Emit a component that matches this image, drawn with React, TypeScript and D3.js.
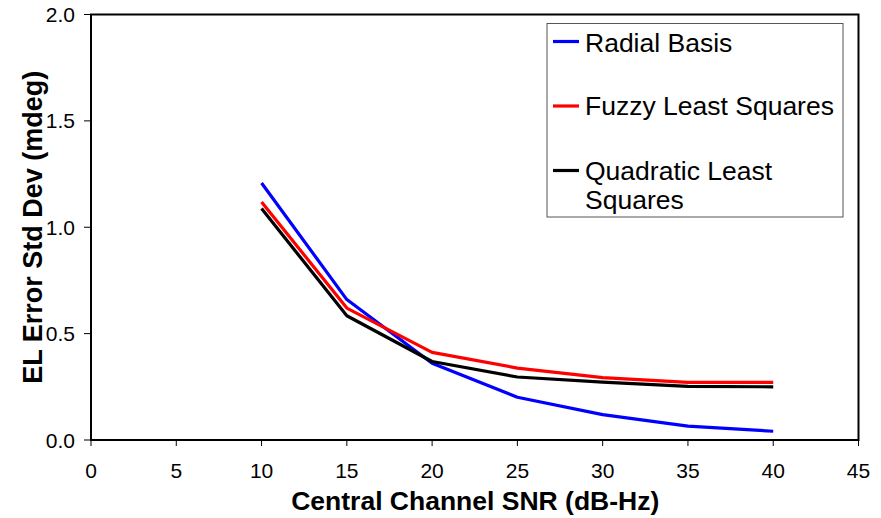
import React from "react";
import * as d3 from "d3";

const snr = [10, 15, 20, 25, 30, 35, 40];
const radialBasis = [1.208, 0.66, 0.361, 0.201, 0.119, 0.065, 0.041];
const fuzzyLeastSquares = [1.119, 0.62, 0.412, 0.338, 0.293, 0.271, 0.271];
const quadraticLeastSquares = [1.088, 0.584, 0.369, 0.296, 0.272, 0.252, 0.25];
const xTicks = [0, 5, 10, 15, 20, 25, 30, 35, 40, 45];
const yTicks = [0, 0.5, 1.0, 1.5, 2.0];
const seriesNames = ["Radial Basis", "Fuzzy Least Squares", "Quadratic Least Squares"];
const seriesColors = ["#0000ff", "#ff0000", "#000000"];

const W = 881;
const H = 518;
const L = 91, R = 858.5, T = 14.5, B = 440;

export default function App() {
  const x = d3.scaleLinear().domain([0, 45]).range([L, R]);
  const y = d3.scaleLinear().domain([0, 2]).range([B, T]);
  const line = d3
    .line<[number, number]>()
    .x((d) => x(d[0]))
    .y((d) => y(d[1]));
  const allSeries = [radialBasis, fuzzyLeastSquares, quadraticLeastSquares];
  const font = "'Liberation Sans', Arial, sans-serif";
  const legendRows = [
    { lines: ["Radial Basis"], base: 51.5, ly: 41.5 },
    { lines: ["Fuzzy Least Squares"], base: 115, ly: 106 },
    { lines: ["Quadratic Least", "Squares"], base: 180, ly: 170.5 },
  ];
  return (
    <svg
      width={W}
      height={H}
      style={{ position: "absolute", left: 0, top: 0, background: "#fff" }}
      fontFamily={font}
    >
      <rect x={0} y={0} width={W} height={H} fill="#fff" />
      {/* series */}
      {allSeries.map((s, i) => (
        <path
          key={i}
          d={line(snr.map((v, j) => [v, s[j]] as [number, number])) || ""}
          fill="none"
          stroke={seriesColors[i]}
          strokeWidth={3.2}
          strokeLinejoin="round"
        />
      ))}
      {/* frame */}
      <rect x={L} y={T} width={R - L} height={B - T} fill="none" stroke="#000" strokeWidth={2} />
      {/* x ticks */}
      {xTicks.map((t) => (
        <g key={"x" + t}>
          <line x1={x(t)} x2={x(t)} y1={B} y2={B + 6} stroke="#000" strokeWidth={1} />
          <text x={x(t)} y={478} textAnchor="middle" fontSize={21} fill="#000">
            {t}
          </text>
        </g>
      ))}
      {/* y ticks */}
      {yTicks.map((t) => (
        <g key={"y" + t}>
          <line x1={L - 7} x2={L} y1={y(t)} y2={y(t)} stroke="#000" strokeWidth={1} />
          <text x={75} y={y(t) + 7.5} textAnchor="end" fontSize={21} fill="#000">
            {t.toFixed(1)}
          </text>
        </g>
      ))}
      {/* axis titles */}
      <text x={(L + R) / 2 + 0.5} y={510} textAnchor="middle" fontSize={26.5} fontWeight="bold" fill="#000">
        Central Channel SNR (dB-Hz)
      </text>
      <text
        transform={`translate(42, ${(T + B) / 2}) rotate(-90)`}
        textAnchor="middle"
        fontSize={27}
        fontWeight="bold"
        fill="#000"
      >
        EL Error Std Dev (mdeg)
      </text>
      {/* legend */}
      <rect x={547} y={23.5} width={296} height={193.5} fill="#fff" stroke="#555" strokeWidth={1} />
      {legendRows.map((r, i) => (
        <g key={"lg" + i}>
          <line x1={553} x2={579} y1={r.ly} y2={r.ly} stroke={seriesColors[i]} strokeWidth={3.2} />
          {r.lines.map((s, k) => (
            <text key={k} x={585} y={r.base + k * 28.5} fontSize={26.5} fill="#000">
              {s}
            </text>
          ))}
        </g>
      ))}
    </svg>
  );
}
